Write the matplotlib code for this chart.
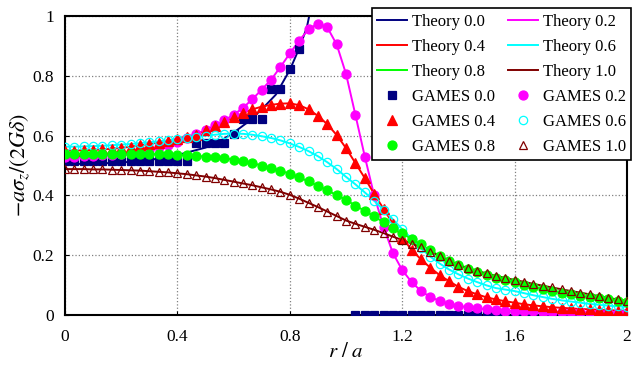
"""vertical gravity of the disk: theory vs GAMES"""
import numpy as np
import matplotlib
matplotlib.use('Agg')
import matplotlib.pyplot as plt
from matplotlib.lines import Line2D

plt.rcParams['font.family'] = ['Liberation Serif', 'DejaVu Serif']
plt.rcParams['mathtext.fontset'] = 'stix'

### data ###

# sample radii r/a (61 points, step 1/30)
r = np.linspace(0, 2, 61)

# theory 0.0 has its own samples: diverges at r/a=1, zero outside
r_t00 = [0, 0.1, 0.2, 0.3, 0.4, 0.5, 0.55, 0.6, 0.65, 0.7, 0.75, 0.8, 0.83, 0.86, 0.88, 0.9,
         np.nan, 1.0, 2.0]
g_t00 = [0.505, 0.506, 0.510, 0.518, 0.535, 0.560, 0.580, 0.610, 0.645, 0.688, 0.737, 0.820,
         0.885, 0.960, 1.050, 1.150, np.nan, 0.0, 0.0]

g00 = [0.516] * 14 + [0.574] * 4 + [0.607] + [0.655] * 3 + [0.755] * 2 + [0.822, 0.890] \
      + [np.nan] * 5 + [0.0] * 30

g02 = [0.530, 0.530, 0.531, 0.532, 0.534, 0.536, 0.539, 0.543, 0.548, 0.553,
       0.561, 0.570, 0.580, 0.592, 0.605, 0.619, 0.634, 0.651, 0.670, 0.693,
       0.722, 0.754, 0.787, 0.830, 0.875, 0.918, 0.956, 0.975, 0.962, 0.905,
       0.806, 0.669, 0.530, 0.400, 0.295, 0.207, 0.150, 0.110, 0.080, 0.060,
       0.047, 0.037, 0.030, 0.026, 0.022, 0.019, 0.017, 0.015, 0.014, 0.013,
       0.012, 0.011, 0.010, 0.010, 0.009, 0.009, 0.008, 0.008, 0.008, 0.007,
       0.007]

g04 = [0.550, 0.550, 0.551, 0.552, 0.554, 0.556, 0.559, 0.563, 0.567, 0.572,
       0.577, 0.583, 0.589, 0.596, 0.603, 0.618, 0.631, 0.645, 0.661, 0.676,
       0.688, 0.697, 0.703, 0.707, 0.708, 0.702, 0.688, 0.666, 0.638, 0.602,
       0.558, 0.508, 0.458, 0.405, 0.355, 0.306, 0.258, 0.218, 0.186, 0.158,
       0.133, 0.113, 0.094, 0.080, 0.069, 0.059, 0.052, 0.046, 0.041, 0.036,
       0.032, 0.029, 0.026, 0.024, 0.022, 0.020, 0.019, 0.017, 0.016, 0.015,
       0.014]

g06 = [0.563, 0.563, 0.564, 0.565, 0.566, 0.568, 0.570, 0.572, 0.575, 0.578,
       0.581, 0.584, 0.588, 0.592, 0.596, 0.600, 0.603, 0.606, 0.607, 0.606,
       0.603, 0.598, 0.592, 0.584, 0.574, 0.562, 0.548, 0.531, 0.511, 0.488,
       0.462, 0.437, 0.410, 0.382, 0.352, 0.320, 0.287, 0.255, 0.223, 0.195,
       0.172, 0.152, 0.136, 0.122, 0.110, 0.099, 0.090, 0.085, 0.080, 0.073,
       0.066, 0.060, 0.054, 0.049, 0.045, 0.041, 0.037, 0.034, 0.031, 0.029,
       0.027]

g08 = [0.540, 0.540, 0.540, 0.540, 0.540, 0.540, 0.540, 0.539, 0.539, 0.538,
       0.538, 0.537, 0.536, 0.534, 0.532, 0.530, 0.527, 0.524, 0.520, 0.515,
       0.508, 0.500, 0.492, 0.483, 0.472, 0.460, 0.447, 0.432, 0.417, 0.401,
       0.385, 0.366, 0.348, 0.330, 0.310, 0.291, 0.273, 0.254, 0.236, 0.216,
       0.198, 0.182, 0.167, 0.154, 0.143, 0.133, 0.124, 0.116, 0.109, 0.101,
       0.094, 0.087, 0.081, 0.075, 0.070, 0.065, 0.060, 0.056, 0.052, 0.048,
       0.044]

g10 = [0.488, 0.488, 0.488, 0.487, 0.487, 0.486, 0.485, 0.484, 0.483, 0.481,
       0.479, 0.477, 0.474, 0.471, 0.467, 0.463, 0.458, 0.452, 0.446, 0.440,
       0.434, 0.427, 0.420, 0.412, 0.402, 0.389, 0.375, 0.361, 0.346, 0.331,
       0.316, 0.305, 0.295, 0.285, 0.274, 0.262, 0.251, 0.239, 0.226, 0.212,
       0.197, 0.182, 0.168, 0.157, 0.148, 0.139, 0.131, 0.124, 0.117, 0.111,
       0.104, 0.098, 0.092, 0.086, 0.080, 0.075, 0.069, 0.063, 0.057, 0.052,
       0.047]

labels = ['0.0', '0.2', '0.4', '0.6', '0.8', '1.0']
colors = ['#000080', '#ff00ff', '#ff0000', '#00ffff', '#00ff00', '#800000']
markers = ['s', 'o', '^', 'o', 'o', '^']
filled = [True, True, True, False, True, False]
msizes = [5.5, 6.5, 6.5, 6.0, 6.5, 6.0]
series = [g00, g02, g04, g06, g08, g10]

### plot ###

fig = plt.figure(figsize=(6.33, 3.65), dpi=100)
ax = fig.add_axes([0.1027, 0.137, 0.888, 0.819])

theory_h = []
games_h = []
for i in range(6):
    if i == 0:
        h, = ax.plot(r_t00, g_t00, color=colors[i], lw=1.4, zorder=2)
    else:
        h, = ax.plot(r, series[i], color=colors[i], lw=1.4, zorder=2)
    theory_h.append(h)

order = [0, 1, 3, 2, 4, 5]  # drawing order of the markers
for i in order:
    mfc = colors[i] if filled[i] else 'none'
    ax.plot(r, series[i], ls='none', marker=markers[i], ms=msizes[i],
            mfc=mfc, mec=colors[i], mew=0.9, zorder=3 + i)
for i in range(6):
    mfc = colors[i] if filled[i] else 'none'
    games_h.append(Line2D([], [], ls='none', marker=markers[i], ms=msizes[i],
                          mfc=mfc, mec=colors[i], mew=0.9))

ax.set_xlim(0, 2)
ax.set_ylim(0, 1)
ax.set_xticks([0, 0.4, 0.8, 1.2, 1.6, 2])
ax.set_xticklabels(['0', '0.4', '0.8', '1.2', '1.6', '2'])
ax.set_yticks([0, 0.2, 0.4, 0.6, 0.8, 1])
ax.set_yticklabels(['0', '0.2', '0.4', '0.6', '0.8', '1'])
ax.tick_params(direction='in', length=3, width=0.8, labelsize=12.5)
ax.tick_params(axis='x', pad=10)
ax.tick_params(axis='y', pad=8)
ax.grid(True, color='#808080', ls=':', lw=0.9)
ax.set_axisbelow(True)
for s in ax.spines.values():
    s.set_linewidth(1.5)

ax.set_xlabel(r'$r\ /\ a$', fontsize=15, labelpad=-1)
ax.set_ylabel(r'$-a\sigma_z/(2G\delta)$', fontsize=16, labelpad=0)

# legend: fill order so that rows read 0.0/0.2, 0.4/0.6, 0.8/1.0
col1 = [0, 2, 4]
col2 = [1, 3, 5]
handles = [theory_h[i] for i in col1] + [games_h[i] for i in col1] + \
          [theory_h[i] for i in col2] + [games_h[i] for i in col2]
names = ['Theory ' + labels[i] for i in col1] + ['GAMES ' + labels[i] for i in col1] + \
        ['Theory ' + labels[i] for i in col2] + ['GAMES ' + labels[i] for i in col2]
leg = fig.legend(handles, names, ncol=2, loc='upper right',
                 bbox_to_anchor=(0.997, 0.977), borderaxespad=0,
                 fontsize=12, frameon=True,
                 fancybox=False, edgecolor='black', framealpha=1,
                 handlelength=1.8, labelspacing=0.54, columnspacing=0.75,
                 borderpad=0.32, handletextpad=0.3)
leg.get_frame().set_linewidth(1.2)
leg.set_zorder(20)

fig.savefig('out.png', dpi=100)
